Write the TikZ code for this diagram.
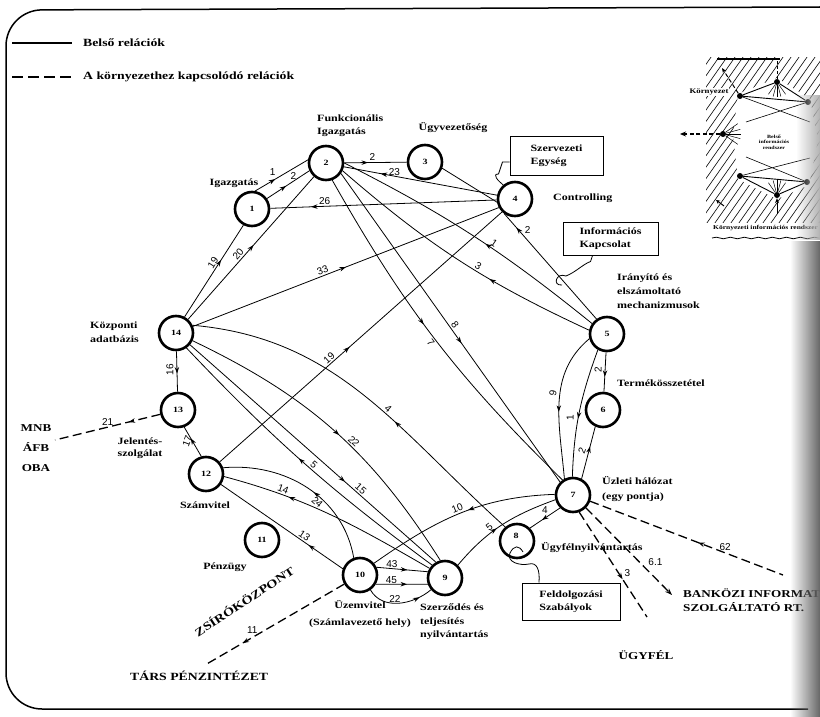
\documentclass[tikz,border=0pt]{standalone}
\usepackage{fontspec}
\setmainfont{Liberation Serif}[FakeStretch=1.25]
\newfontfamily\numfont{Liberation Sans}
\usetikzlibrary{arrows.meta,decorations.markings,decorations.pathmorphing,fadings,calc}

\tikzfading[name=bandfade, left color=transparent!100, right color=transparent!0]

\tikzset{
  nd/.style={circle, draw, line width=2.6pt, minimum size=34pt, inner sep=0pt,
             font=\bfseries\fontsize{8}{8}\selectfont},
  lab/.style={inner sep=0pt, align=left, font=\bfseries\fontsize{9.6}{13}\selectfont},
  bigcap/.style={inner sep=0pt, align=left, font=\bfseries\fontsize{10.5}{14}\selectfont},
  num/.style={inner sep=1.5pt, font=\numfont\fontsize{10}{10}\selectfont},
  rel/.style={line width=0.8pt},
  env/.style={line width=1.3pt, dash pattern=on 9pt off 4.5pt},
  fwd/.style={postaction={decorate}, decoration={markings,
      mark=at position #1 with {\arrow{Stealth[length=6.5pt,width=4.5pt]}}}},
  bwd/.style={postaction={decorate}, decoration={markings,
      mark=at position #1 with {\arrowreversed{Stealth[length=6.5pt,width=4.5pt]}}}},
  textbox/.style={draw, line width=1pt, inner sep=0pt, align=left,
      font=\bfseries\fontsize{9.6}{12.5}\selectfont},
  dot/.style={circle, fill, inner sep=0pt, minimum size=6pt},
  tiny/.style={inner sep=0pt, align=center, font=\bfseries\fontsize{4.8}{5.4}\selectfont},
}

\begin{document}
\begin{tikzpicture}[x=1pt, y=1pt]
\useasboundingbox (0,0) rectangle (820,-717);

% outer frame
\draw[line width=1.5pt, rounded corners=36pt] (820,-7) -- (6,-10) -- (6,-709) -- (808,-709);

% legend
\node[lab, anchor=west, font=\bfseries\fontsize{11}{13}\selectfont] (lg1) at (83,-43) {Belső relációk};
\node[lab, anchor=west, font=\bfseries\fontsize{11}{13}\selectfont] (lg2) at (83,-77) {A környezethez kapcsolódó relációk};
\draw[line width=1.1pt] (12,-43) -- (72,-43);
\draw[line width=1.3pt, dash pattern=on 11pt off 5pt] (12,-77) -- (72,-77);

% processes
\node[nd] (n1) at (252,-209) {1};
\node[nd] (n2) at (326,-163) {2};
\node[nd] (n3) at (425,-162) {3};
\node[nd] (n4) at (515,-199) {4};
\node[nd] (n5) at (607,-334) {5};
\node[nd] (n6) at (603,-410) {6};
\node[nd] (n7) at (573,-495) {7};
\node[nd] (n8) at (517,-541) {};
\node[font=\bfseries\fontsize{8}{8}\selectfont, inner sep=0pt] (n8t) at (516,-536) {8};
\node[nd] (n9) at (445,-578) {9};
\node[nd] (n10) at (360,-575) {10};
\node[nd] (n11) at (262,-540) {11};
\node[nd] (n12) at (206,-474) {12};
\node[nd] (n13) at (178,-410) {13};
\node[nd] (n14) at (176,-333) {14};

% process names
\node[lab, anchor=west] (tFunk) at (317,-125.5) {Funkcionális\\Igazgatás};
\node[lab] (tUgyv) at (453,-128) {Ügyvezetőség};
\node[lab] (tIgaz) at (234,-183) {Igazgatás};
\node[lab, anchor=west] (tContr) at (553,-198) {Controlling};
\node[textbox, minimum width=93pt, minimum height=39pt] (sbox) at (556.5,-155.5) {Szervezeti\\Egység};
\node[textbox, minimum width=95pt, minimum height=33pt] (ibox) at (610.5,-238.5) {Információs\\Kapcsolat};
\node[lab, anchor=west, font=\bfseries\fontsize{9.6}{14}\selectfont] (tIrany) at (617,-291) {Irányító és\\elszámoltató\\mechanizmusok};
\node[lab, anchor=west] (tTerm) at (617,-383) {Termékösszetétel};
\node[lab, anchor=west, font=\bfseries\fontsize{9.6}{15}\selectfont] (tUzl) at (602,-489.5) {Üzleti hálózat\\(egy pontja)};
\node[lab, anchor=west] (tUgyn) at (541,-548) {Ügyfélnyilvántartás};
\node[textbox, minimum width=98pt, minimum height=37pt] (fbox) at (571,-601.5) {Feldolgozási\\Szabályok};
\node[bigcap, anchor=west] (tBank) at (683,-600) {BANKÖZI INFORMATIKAI\\SZOLGÁLTATÓ RT.};
\node[bigcap] (tUgyf) at (646,-655) {ÜGYFÉL};
\node[bigcap, anchor=west, font=\bfseries\fontsize{11}{13}\selectfont] (tTars) at (130,-676) {TÁRS PÉNZINTÉZET};
\node[bigcap, rotate=33.5, font=\bfseries\fontsize{11.5}{13}\selectfont] (tZsiro) at (244,-601) {ZSÍRÓKÖZPONT};
\node[lab, align=center, font=\bfseries\fontsize{9.6}{17}\selectfont] (tUzem) at (360,-614) {Üzemvitel\\(Számlavezető hely)};
\node[lab, anchor=north west, font=\bfseries\fontsize{9.6}{13.5}\selectfont] (tSzerz) at (420,-604) {Szerződés és\\teljesítés\\nyilvántartás};
\node[lab] (tPenz) at (225,-567) {Pénzügy};
\node[lab] (tSzamv) at (205,-505) {Számvitel};
\node[lab, align=center, font=\bfseries\fontsize{9.6}{12}\selectfont] (tJel) at (140,-448) {Jelentés-\\szolgálat};
\node[lab, anchor=west, font=\bfseries\fontsize{9.6}{14}\selectfont] (tKozp) at (90,-332) {Központi\\adatbázis};
\node[bigcap, align=center, font=\bfseries\fontsize{10.5}{20}\selectfont] (tMnb) at (36,-448) {MNB\\ÁFB\\OBA};

% inner relations
\draw[rel, fwd=.38] (n1.80) -- (n2.170) node[num, pos=.42, above left=0pt] {1};
\draw[rel, fwd=.45] (n1.35) -- (n2.205) node[num, pos=.62, above=0pt] {2};
\draw[rel, fwd=.38] (n2) -- (n3) node[num, pos=.45, above=0pt] {2};
\draw[rel, bwd=.24] (n2.-12) -- (n4.168) node[num, pos=.33, above=-1pt] {23};
\draw[rel, bwd=.18] (n1) -- (n4.183) node[num, pos=.24, above=0pt] {26};
\draw[rel] (n3.-20) -- (n4.190);
\draw[rel, fwd=.62] (n14.62) -- (n1.242) node[num, pos=.56, sloped, above] {19};
\draw[rel, fwd=.52] (n14) -- (n2) node[num, pos=.43, sloped, above] {20};
\draw[rel, fwd=.5] (n14) -- (n4.208) node[num, pos=.43, sloped, above] {33};
\draw[rel, fwd=.46] (n12) -- (n4.225) node[num, pos=.4, sloped, above] {19};
\draw[rel, fwd=.45] (n2.-70) to[bend right=8] node[num, pos=.5, sloped, below] {7} (n7.125);
\draw[rel, fwd=.55] (n2.-35) -- (n7.135) node[num, pos=.5, sloped, above] {8};
\draw[rel, bwd=.55] (n2.0) to[bend left=6] node[num, pos=.58, sloped, above] {1} (n5.145);
\draw[rel, bwd=.62] (n2.-25) to[bend right=8] node[num, pos=.57, sloped, above] {3} (n5.168);
\draw[rel, bwd=.13] (n4.235) -- (n5.125) node[num, pos=.2, above right=0pt] {2};
\draw[rel, fwd=.62] (n5) -- (n6) node[num, pos=.45, rotate=90, anchor=south, inner sep=3pt] {2};
\draw[rel, fwd=.62] (n7.62) -- (n6.245) node[num, pos=.5, rotate=70, anchor=south, inner sep=3pt] {2};
\draw[rel, fwd=.55] (n5.195) to[out=220, in=95] node[num, pos=.45, rotate=80, anchor=south, inner sep=3pt] {9} (n7.118);
\draw[rel, fwd=.55] (n5.240) to[out=250, in=88] node[num, pos=.55, rotate=90, anchor=south, inner sep=4pt] {1} (n7.92);
\draw[rel, bwd=.6] (n14.25) to[out=-5, in=138] node[num, pos=.58, sloped, above] {4} (n8.130);
\draw[rel, fwd=.52] (n14.-25) to[bend left=16] node[num, pos=.57, sloped, above] {22} (n9.105);
\draw[rel, fwd=.63] (n14.-40) -- (n9.120) node[num, pos=.68, sloped, above] {15};
\draw[rel, bwd=.48] (n14.-55) to[bend right=5] node[num, pos=.53, sloped, above] {5} (n9.135);
\draw[rel, bwd=.3] (n12.-8) to[out=-15, in=150] node[num, pos=.25, sloped, above] {14} (n9.148);
\draw[rel, bwd=.55] (n12.20) to[out=5, in=100] node[num, pos=.6, sloped, below] {24} (n10.110);
\draw[rel, bwd=.72] (n12.-35) -- (n10.160) node[num, pos=.66, sloped, above] {13};
\draw[rel, fwd=.45] (n7.178) to[out=182, in=35] node[num, pos=.5, sloped, above] {10} (n10.40);
\draw[rel, fwd=.45] (n9.45) to[out=50, in=200] node[num, pos=.4, sloped, above] {5} (n7.195);
\draw[rel, fwd=.6] (n7.225) -- (n8.45) node[num, pos=.35, above left=0pt] {4};
\draw[rel, fwd=.6] (n10.25) -- (n9.160) node[num, pos=.3, above=-1pt] {43};
\draw[rel, fwd=.6] (n10.-30) -- (n9.-160) node[num, pos=.3, above=-1pt] {45};
\draw[rel, fwd=.8] (n10.-55) to[out=-60, in=220] node[num, pos=.45, above=-1pt] {22} (n9.-140);
\draw[rel, fwd=.55] (n14) -- (n13) node[num, pos=.45, rotate=90, anchor=south, inner sep=3pt] {16};
\draw[rel, fwd=.62] (n12.105) -- (n13.-70) node[num, pos=.45, rotate=70, anchor=south, inner sep=3pt] {17};

% relations to the environment
\coordinate (mnb) at (55,-440);
\coordinate (tars) at (205,-665);
\coordinate (bankA) at (783,-575);
\coordinate (bankB) at (672,-595);
\coordinate (ugyf) at (647,-617);
\draw[env, fwd=.3] (n13) -- (mnb) node[num, pos=.5, above=0pt] {21};
\draw[env, fwd=.73] (n10.210) -- (tars) node[num, pos=.66, above=2pt] {11};
\draw[env, bwd=.56] (n7.-20) -- (bankA) node[num, pos=.7, above=0pt] {62};
\draw[env, -{Stealth[length=7pt,width=5pt]}] (n7.-45) -- (bankB) node[num, pos=.62, right=7pt] {6.1};
\draw[env, fwd=.64] (n7.-70) -- (ugyf) node[num, pos=.58, right=4pt] {3};

% annotation marks on boxes
\draw[rel] ([yshift=-6.5pt]sbox.west) -- ++(-7,0) -- ++(-4,-12)
  .. controls +(-7,0) and +(-5,4) .. (n4.130);
\draw[rel] ([xshift=-18pt]ibox.south) -- ++(-2,-6)
  .. controls +(-8,-3) and +(10,4) .. (566,-276)
  .. controls (556,-272) and (552,-286) .. (562,-285);
\draw[rel] ($(n8.center)+(-7,-12)$) .. controls ($(n8.center)+(-3,-4)$) and ($(n8.center)+(2,-4)$) .. ($(n8.center)+(6,-11)$);
\draw[rel] ($(n8.center)+(-7,-12)$) .. controls (506,-562) and (520,-566) .. (529,-564)
  .. controls (537,-562) and (540,-570) .. ([xshift=-32pt]fbox.north);

% inset: the inner information system within its environment
\begin{scope}
  \clip (706,-58) rectangle (820,-222);
  \foreach \k in {0,...,31} \draw[line width=0.6pt] (575+8*\k,-240) -- ++(140,200);
\end{scope}
\fill[white] (738,-94) -- (777,-78) -- (810,-99) -- (818,-140) -- (809,-185)
  -- (777,-199) -- (738,-179) -- (733,-136) -- cycle;
\draw[line width=1.6pt] (717,-59) -- (780,-59);
\node[dot] (iA) at (777,-82) {};
\node[dot] (iB) at (740,-96) {};
\node[dot] (iC) at (808,-102) {};
\node[dot] (iD) at (723,-134) {};
\node[dot] (iE) at (740,-176) {};
\node[dot] (iF) at (807,-182) {};
\node[dot] (iG) at (777,-195) {};
\draw[line width=0.9pt] (iB) -- (iA) -- (iC) -- (iB);
\draw[line width=0.9pt] (iE) -- (iG) -- (iF) -- (iE);
\draw[line width=0.6pt] (iB) -- (810,-122) (746,-122) -- (iC);
\draw[line width=0.6pt] (iE) -- (810,-158) (746,-157) -- (iF);
\foreach \a in {-55,-75,-90,-105,-125} \draw[line width=0.5pt] (iA) -- ++(\a:15);
\foreach \a in {55,75,90,105,125} \draw[line width=0.5pt] (iG) -- ++(\a:15);
\foreach \a in {-35,-15,0,15,35} \draw[line width=0.5pt] (iD) -- ++(\a:18);
\draw[line width=1.1pt, dash pattern=on 4pt off 2.5pt, -{Stealth[length=6pt,width=5pt]}] (iD) -- (680,-134);
\draw[line width=1pt, dash pattern=on 4pt off 2.5pt, -{Stealth[length=5pt,width=4pt]}] (iB) -- (722,-68);
\draw[line width=1pt, dash pattern=on 3pt off 2pt] (iA) -- (777,-60);
\draw[line width=1pt, -{Stealth[length=5pt,width=4pt]}] (777,-214) -- (iG);
\draw[line width=1pt, -{Stealth[length=4pt,width=4pt]}] (724,-206) -- (716,-200);
\node[inner sep=1pt, fill=white, font=\bfseries\fontsize{7}{8}\selectfont] (iKorny) at (709,-92) {Környezet};
\node[tiny] (iBelso) at (774,-142) {Belső\\információs\\rendszer};
\node[inner sep=0pt, anchor=west, font=\bfseries\fontsize{6}{7}\selectfont] (iKornyInf) at (713,-228) {Környezeti információs rendszer};
\draw[line width=0.8pt, decorate, decoration={snake, amplitude=0.8pt, segment length=14pt}] (712,-238) -- (820,-238);

% shadow of the page fold at the right edge
\fill[black!30, path fading=bandfade] (796,-95) rectangle (820,-240);
\fill[black!60, path fading=bandfade] (790,-240) rectangle (820,-717);
\end{tikzpicture}
\end{document}
